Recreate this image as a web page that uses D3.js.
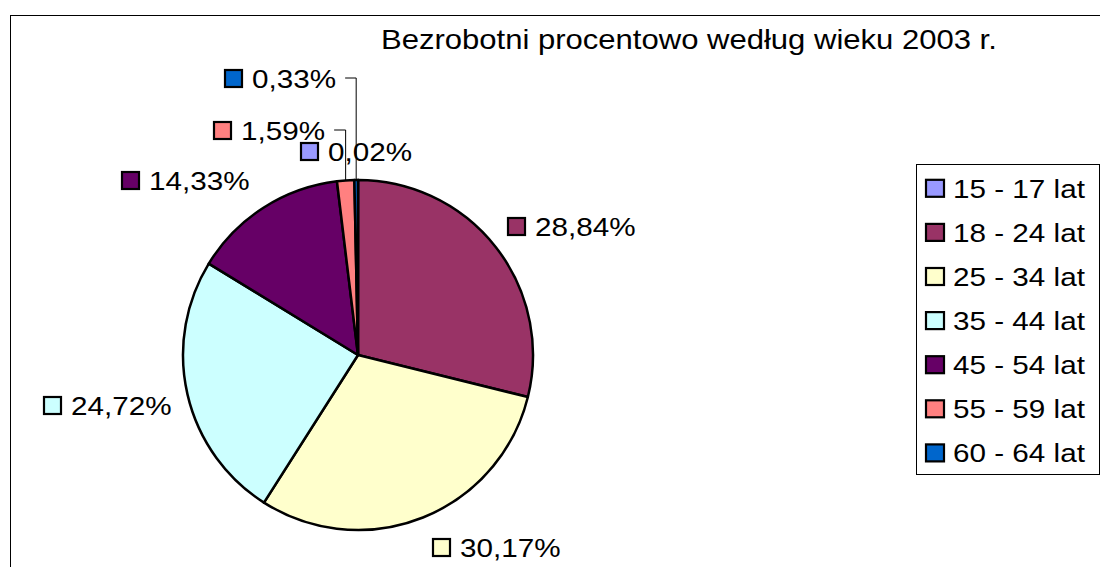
<!DOCTYPE html>
<html>
<head>
<meta charset="utf-8">
<script src="https://cdn.jsdelivr.net/npm/d3@7"></script>
<style>
  html, body { margin: 0; padding: 0; background: #fff; }
  svg { display: block; }
  text { font-family: "Liberation Sans", Arial, sans-serif; fill: #000; }
</style>
</head>
<body>
<svg id="chart" width="1100" height="567"></svg>
<script>
// ---- data ----
const title = "Bezrobotni procentowo według wieku 2003 r.";
const categories = ["15 - 17 lat", "18 - 24 lat", "25 - 34 lat", "35 - 44 lat", "45 - 54 lat", "55 - 59 lat", "60 - 64 lat"];
const values = [0.02, 28.84, 30.17, 24.72, 14.33, 1.59, 0.33];
const colors = ["#9999FF", "#993366", "#FFFFCC", "#CCFFFF", "#660066", "#FF8080", "#0066CC"];

// ---- layout (label anchor: marker left x, text baseline y) ----
const labelAnchors = [[300, 161], [507, 236], [432, 557], [43, 415], [121, 190], [213, 140], [224, 88]];
const leaderFor = [false, false, false, false, false, true, true];

const W = 1100, H = 567;
const cx = 358, cy = 355, R = 175;
const FS = 26.5, SX = 1.12;

const svg = d3.select("#chart");

// outer frame
svg.append("rect").attr("x", 10.5).attr("y", 15.5).attr("width", 1100).attr("height", 600)
  .attr("fill", "#fff").attr("stroke", "#000").attr("stroke-width", 1);

// title
svg.append("text").text(title)
  .attr("font-size", FS + 0.5)
  .attr("transform", `translate(381,49) scale(1.15,1)`);

// pie
const pie = d3.pie().sort(null).value(d => d)(values);
const arc = d3.arc().innerRadius(0).outerRadius(R);
const g = svg.append("g").attr("transform", `translate(${cx},${cy})`);
g.selectAll("path").data(pie).join("path")
  .attr("d", arc)
  .attr("fill", (d, i) => colors[i])
  .attr("stroke", "#000")
  .attr("stroke-width", 2.5)
  .attr("stroke-linejoin", "round");

const fmt = v => v.toFixed(2).replace(".", ",") + "%";

// data labels
pie.forEach((d, i) => {
  const [mx, by] = labelAnchors[i];
  const lg = svg.append("g");
  lg.append("rect").attr("x", mx + 1).attr("y", by - 18).attr("width", 17).attr("height", 17)
    .attr("fill", colors[i]).attr("stroke", "#000").attr("stroke-width", 2.2);
  const t = lg.append("text").text(fmt(values[i]))
    .attr("font-size", FS)
    .attr("transform", `translate(${mx + 28},${by}) scale(${SX},1)`);
  if (leaderFor[i]) {
    const tw = t.node().getComputedTextLength() * SX;
    const x0 = mx + 28 + tw + 9;
    const a = (d.startAngle + d.endAngle) / 2;
    const px = cx + R * Math.sin(a), py = cy - R * Math.cos(a);
    const ly = by - 10;
    svg.append("path")
      .attr("d", `M${x0},${ly}H${px}V${py}`)
      .attr("fill", "none").attr("stroke", "#000").attr("stroke-width", 1);
  }
});

// legend
const lgx = 916, lgy = 164, lgw = 183, lgh = 310;
svg.append("rect").attr("x", lgx + 0.5).attr("y", lgy + 0.5).attr("width", lgw).attr("height", lgh)
  .attr("fill", "#fff").attr("stroke", "#000").attr("stroke-width", 1);
const rowY = d3.scalePoint().domain(categories).range([188.3, 188.3 + 44.1 * 6]);
categories.forEach((c, i) => {
  const y = rowY(c);
  svg.append("rect").attr("x", 926).attr("y", y - 8.5).attr("width", 18).attr("height", 17)
    .attr("fill", colors[i]).attr("stroke", "#000").attr("stroke-width", 2.2);
  svg.append("text").text(c)
    .attr("font-size", FS)
    .attr("transform", `translate(953,${y + 9.5}) scale(${SX},1)`);
});
</script>
</body>
</html>
